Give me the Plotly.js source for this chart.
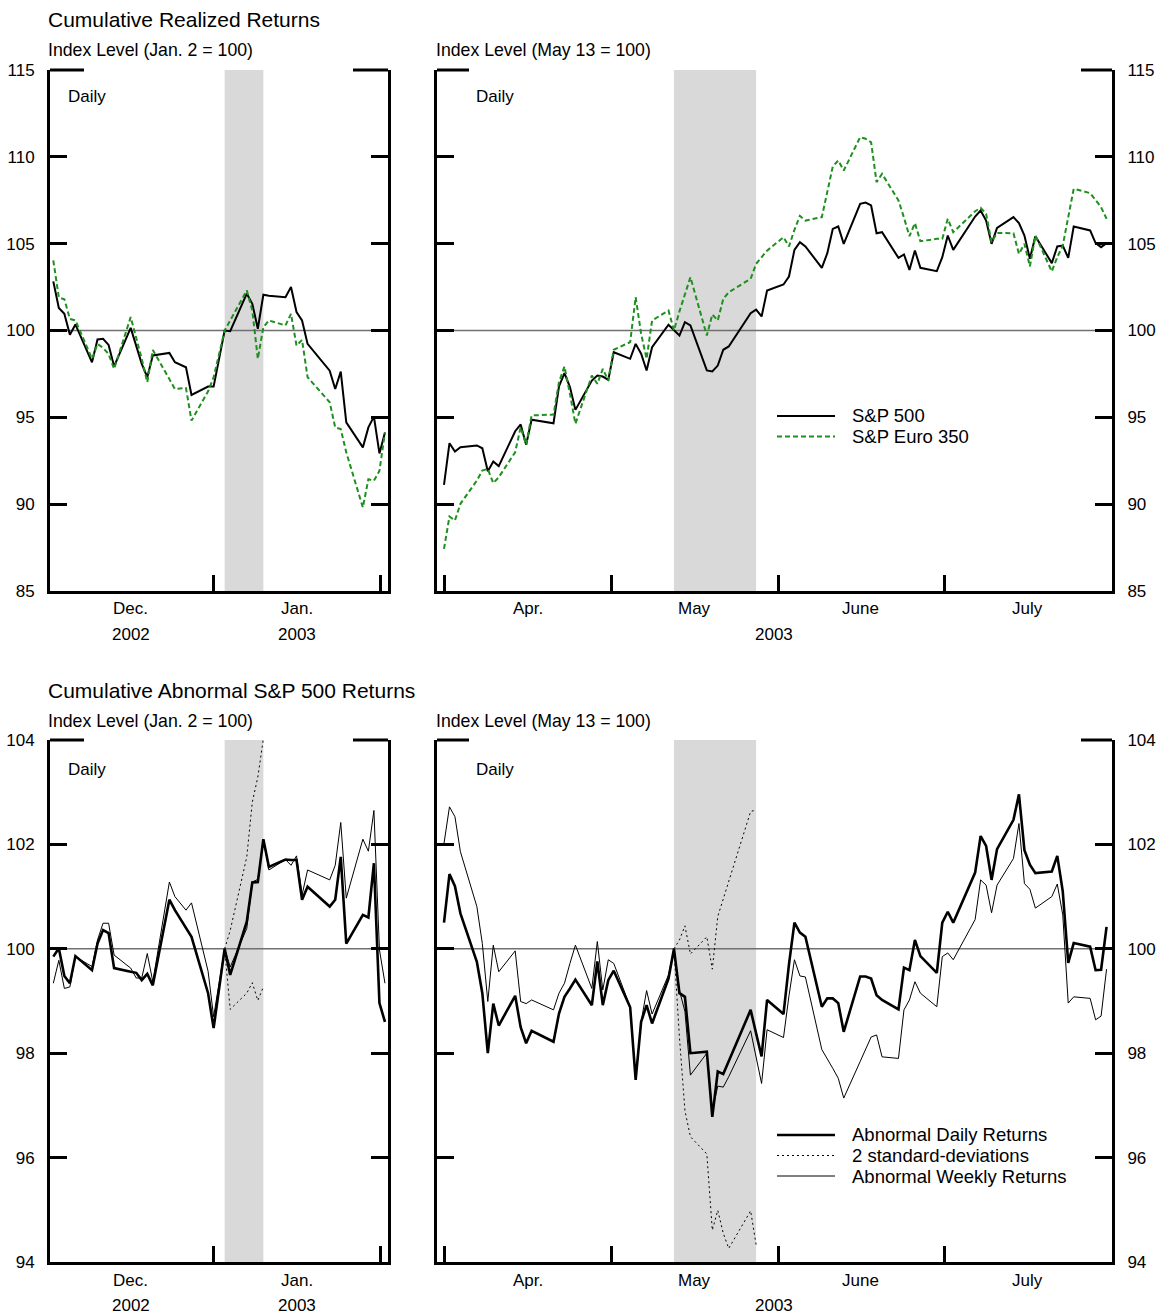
<!DOCTYPE html>
<html><head><meta charset="utf-8">
<script src="https://cdn.plot.ly/plotly-3.0.1.min.js"></script>
<style>html,body{margin:0;padding:0;background:#fff;}#chart{width:1158px;height:1315px;}</style>
</head><body><div id="chart"></div>
<script>
// ---------- DATA ----------
const datesL = ['2002-12-02','2002-12-03','2002-12-04','2002-12-05','2002-12-06','2002-12-09','2002-12-10','2002-12-11','2002-12-12','2002-12-13','2002-12-16','2002-12-17','2002-12-18','2002-12-19','2002-12-20','2002-12-23','2002-12-24','2002-12-26','2002-12-27','2002-12-30','2002-12-31','2003-01-02','2003-01-03','2003-01-06','2003-01-07','2003-01-08','2003-01-09','2003-01-10','2003-01-13','2003-01-14','2003-01-15','2003-01-16','2003-01-17','2003-01-21','2003-01-22','2003-01-23','2003-01-24','2003-01-27','2003-01-28','2003-01-29','2003-01-30','2003-01-31'];
const sp500L = [102.83,101.3,100.96,99.75,100.35,98.17,99.48,99.52,99.17,97.94,100.15,99.1,98.08,97.31,98.56,98.71,98.17,97.88,96.29,96.77,96.77,100.0,99.96,102.12,101.54,100.1,102.06,102.0,101.92,102.5,101.06,100.58,99.23,97.69,96.63,97.63,94.71,93.27,94.42,95.04,92.92,94.13];
const euro350L = [104.04,101.9,101.8,100.67,100.58,98.37,99.23,99.0,98.65,97.79,100.77,99.6,98.37,97.02,98.88,97.2,96.63,96.69,94.81,96.5,97.3,100.0,100.6,102.31,101.15,98.37,100.19,100.58,100.29,100.96,99.13,99.46,97.31,95.87,94.42,94.33,92.98,89.81,91.44,91.35,91.92,94.13];
const abnDailyL = [99.85,100.01,99.48,99.34,99.86,99.59,100.1,100.36,100.3,99.63,99.56,99.54,99.4,99.52,99.3,100.94,100.74,100.39,100.23,99.15,98.48,100.0,99.5,100.52,101.27,101.28,102.1,101.57,101.71,101.7,101.7,100.94,101.19,100.81,100.94,101.76,100.1,100.65,100.6,101.64,98.96,98.6];
const abnWeeklyL = [99.34,99.78,99.24,99.27,99.85,99.66,100.17,100.49,100.49,99.88,99.63,99.44,99.44,99.91,99.37,101.28,101.0,100.74,100.88,99.57,98.7,100.0,99.65,100.39,101.28,101.33,102.1,101.51,101.71,101.6,101.78,101.03,101.51,101.32,101.6,102.42,100.97,102.1,101.87,102.65,99.98,99.34];
const sdDatesL = ['2003-01-02','2003-01-03','2003-01-06','2003-01-07','2003-01-08','2003-01-09'];
const sdUpperL = [100.0,100.35,101.76,102.81,103.29,104.02];
const sdLowerL = [100.0,98.84,99.15,99.35,99.01,99.27];

const datesTopR = ['2003-04-01','2003-04-02','2003-04-03','2003-04-04','2003-04-07','2003-04-08','2003-04-09','2003-04-10','2003-04-11','2003-04-14','2003-04-15','2003-04-16','2003-04-17','2003-04-21','2003-04-22','2003-04-23','2003-04-24','2003-04-25','2003-04-28','2003-04-29','2003-04-30',
'2003-05-01','2003-05-02','2003-05-05','2003-05-06','2003-05-07','2003-05-08','2003-05-09','2003-05-12','2003-05-13','2003-05-14','2003-05-15','2003-05-16','2003-05-19','2003-05-20','2003-05-21','2003-05-22','2003-05-23','2003-05-27','2003-05-28','2003-05-29','2003-05-30',
'2003-06-02','2003-06-03','2003-06-04','2003-06-05','2003-06-06','2003-06-09','2003-06-10','2003-06-11','2003-06-12','2003-06-13','2003-06-16','2003-06-17','2003-06-18','2003-06-19','2003-06-20','2003-06-23','2003-06-24','2003-06-25','2003-06-26','2003-06-27','2003-06-30',
'2003-07-01','2003-07-02','2003-07-03','2003-07-07','2003-07-08','2003-07-09','2003-07-10','2003-07-11','2003-07-14','2003-07-15','2003-07-16','2003-07-17','2003-07-18','2003-07-21','2003-07-22','2003-07-23','2003-07-24','2003-07-25','2003-07-28','2003-07-29','2003-07-30','2003-07-31','2003-08-01'];
const sp500R = [91.11,93.51,93.03,93.28,93.38,93.22,91.9,92.46,92.19,94.2,94.59,93.42,94.86,94.66,96.78,97.54,96.74,95.43,97.12,97.41,97.35,
97.16,98.75,98.37,99.23,98.66,97.7,99.04,100.33,100.0,99.71,100.48,100.29,97.7,97.64,97.98,98.89,99.08,101.0,101.2,100.81,102.3,
102.65,103.11,104.64,105.09,104.84,103.61,104.45,105.85,105.99,104.99,107.29,107.37,107.2,105.6,105.66,104.18,104.38,103.49,104.61,103.61,103.42,
104.22,105.47,104.64,106.56,106.91,106.33,104.99,105.91,106.53,106.18,105.47,104.13,105.43,103.88,104.84,104.89,104.18,105.99,105.76,105.03,104.8,105.03,105.03];
const euro350R = [87.43,89.29,89.06,90.02,91.36,91.94,92.03,91.21,91.55,92.99,94.43,93.42,95.11,95.16,97.02,97.93,96.35,94.63,97.41,96.93,97.79,
97.12,98.89,99.33,101.92,99.81,98.37,100.58,101.15,100.0,101.1,102.1,103.07,99.71,100.92,100.58,101.82,102.2,102.98,103.84,104.2,104.6,
105.37,104.84,105.8,106.6,106.33,106.53,107.98,109.44,109.79,109.21,111.13,111.04,110.84,108.54,109.02,107.49,106.5,105.43,106.18,105.14,105.28,
105.28,106.43,105.66,106.87,107.06,106.72,105.09,105.62,105.6,104.41,104.99,103.69,105.47,103.4,104.22,104.89,106.53,108.16,107.91,107.49,107.1,106.43,null];

const datesBotR = datesTopR.slice(0, 85);
const abnDailyR = [100.5,101.43,101.2,100.68,99.75,99.15,98.0,98.95,98.53,99.1,98.5,98.19,98.43,98.22,98.76,99.08,99.24,99.41,98.92,99.76,98.92,
99.4,99.58,98.88,97.49,98.6,98.92,98.57,99.43,100.0,99.15,99.08,98.0,98.03,96.78,97.65,97.6,97.84,98.83,98.38,97.94,99.02,
98.75,99.7,100.5,100.31,100.23,98.89,99.05,99.05,98.96,98.41,99.47,99.47,99.43,99.11,99.02,98.84,99.64,99.59,100.17,99.86,99.54,
100.5,100.71,100.5,101.46,102.16,101.97,101.32,101.91,102.47,102.96,101.89,101.61,101.45,101.48,101.78,101.1,99.73,100.11,100.04,99.59,99.6,100.42];
const abnWeeklyR = [102.02,102.72,102.53,101.86,100.81,100.1,98.99,100.07,99.56,99.96,98.99,98.95,99.02,98.83,99.15,99.34,99.72,100.07,99.24,100.14,99.21,
99.79,99.72,98.89,97.52,98.6,99.2,98.75,99.5,100.0,99.2,98.8,97.58,98.0,96.9,97.37,97.35,97.55,98.43,97.93,97.42,98.45,
98.3,99.1,99.79,99.48,99.46,98.07,97.9,97.71,97.52,97.14,97.84,98.06,98.31,98.35,97.93,97.9,98.83,99.02,99.37,99.15,98.89,
99.85,99.92,99.79,100.56,101.32,101.22,100.69,101.22,101.73,102.4,101.25,101.14,100.78,101.0,101.24,100.65,98.96,99.08,99.05,98.64,98.71,99.61];
const sdDatesR = ['2003-05-13','2003-05-14','2003-05-15','2003-05-16','2003-05-19','2003-05-20','2003-05-21','2003-05-22','2003-05-23','2003-05-27','2003-05-28'];
const sdUpperR = [100.0,100.17,100.44,99.9,100.23,99.61,100.62,100.96,101.31,102.63,102.66];
const sdLowerR = [100.0,98.3,96.9,96.4,96.07,94.61,94.99,94.55,94.26,94.98,94.33];

const yTicksTop = [85,90,95,100,105,110,115];
const yTicksBot = [94,96,98,100,102,104];
const monthTicksL = ['2002-12-31','2003-01-30 06:00'];
const monthTicksR = ['2003-04-01 04:00','2003-05-01 15:00','2003-06-01','2003-07-01 09:00'];
const monthLabelsL = [['2002-12-16','Dec.'],['2003-01-15','Jan.']];
const yearLabelsL = [['2002-12-16','2002'],['2003-01-15','2003']];
const monthLabelsR = [['2003-04-16 08:00','Apr.'],['2003-05-16 17:00','May'],['2003-06-16 03:00','June'],['2003-07-16 15:00','July']];
const yearLabelsR = [['2003-05-31 06:00','2003']];
const eventL = ['2003-01-02','2003-01-09'];
const eventR = ['2003-05-13','2003-05-28'];

// ---------- LAYOUT HELPERS ----------
const W = 1158, H = 1315;
const PX = x => x / W;
const PY = y => 1 - y / H;
const FONT = 'Liberation Sans, Arial, Helvetica, sans-serif';
const GREEN = '#1f8f1f';

const traces = [
  {x: datesL, y: sp500L, xaxis:'x', yaxis:'y', mode:'lines', line:{color:'#000', width:2}, name:'S&P 500'},
  {x: datesL, y: euro350L, xaxis:'x', yaxis:'y', mode:'lines', line:{color:GREEN, width:2, dash:'5px,3px'}, name:'S&P Euro 350'},
  {x: datesTopR, y: sp500R, xaxis:'x2', yaxis:'y2', mode:'lines', line:{color:'#000', width:2}, name:'S&P 500'},
  {x: datesTopR, y: euro350R, xaxis:'x2', yaxis:'y2', mode:'lines', line:{color:GREEN, width:2, dash:'5px,3px'}, name:'S&P Euro 350'},
  {x: datesL, y: abnWeeklyL, xaxis:'x3', yaxis:'y3', mode:'lines', line:{color:'#000', width:1}, name:'Abnormal Weekly Returns'},
  {x: datesL, y: abnDailyL, xaxis:'x3', yaxis:'y3', mode:'lines', line:{color:'#000', width:2.6}, name:'Abnormal Daily Returns'},
  {x: sdDatesL, y: sdUpperL, xaxis:'x3', yaxis:'y3', mode:'lines', line:{color:'#000', width:1, dash:'2px,3px'}, name:'2 standard-deviations'},
  {x: sdDatesL, y: sdLowerL, xaxis:'x3', yaxis:'y3', mode:'lines', line:{color:'#000', width:1, dash:'2px,3px'}, name:'2 standard-deviations'},
  {x: datesBotR, y: abnWeeklyR, xaxis:'x4', yaxis:'y4', mode:'lines', line:{color:'#000', width:1}, name:'Abnormal Weekly Returns'},
  {x: datesBotR, y: abnDailyR, xaxis:'x4', yaxis:'y4', mode:'lines', line:{color:'#000', width:2.6}, name:'Abnormal Daily Returns'},
  {x: sdDatesR, y: sdUpperR, xaxis:'x4', yaxis:'y4', mode:'lines', line:{color:'#000', width:1, dash:'2px,3px'}, name:'2 standard-deviations'},
  {x: sdDatesR, y: sdLowerR, xaxis:'x4', yaxis:'y4', mode:'lines', line:{color:'#000', width:1, dash:'2px,3px'}, name:'2 standard-deviations'}
];

const xCommon = {type:'date', showticklabels:false, ticks:'inside', ticklen:16, tickwidth:3, tickcolor:'#000',
  showline:true, linewidth:3, linecolor:'#000', showgrid:false, zeroline:false, fixedrange:true};
const yCommon = {ticks:'inside', ticklen:17, tickwidth:3, tickcolor:'#000', showline:true, linewidth:3, linecolor:'#000',
  mirror:'ticks', showgrid:false, zeroline:false, fixedrange:true, tickfont:{family:FONT, size:17, color:'#000'}, ticklabelstandoff:9};

const domXL = [PX(50), PX(388)], domXR = [PX(437), PX(1112)];
const domYT = [PY(591), PY(70)], domYB = [PY(1262), PY(740)];
const rangeL = ['2002-12-01 09:40','2003-01-31 13:10'];
const rangeR = ['2003-03-30 17:20','2003-07-31 23:50'];

const shapes = [];
const annotations = [];
// event bands and 100 lines
[['x','y',eventL],['x2','y2',eventR],['x3','y3',eventL],['x4','y4',eventR]].forEach(([xa,ya,ev]) => {
  shapes.push({type:'rect', xref:xa, yref:ya+' domain', x0:ev[0], x1:ev[1], y0:0, y1:1, fillcolor:'#d9d9d9', line:{width:0}, layer:'below'});
  shapes.push({type:'line', xref:xa+' domain', yref:ya, x0:0, x1:1, y0:100, y1:100, line:{color:'#707070', width:1.4}, layer:'below'});
});
// long top ticks
[[50,84,353,388,70],[437,469,1081,1112,70],[50,84,353,388,740],[437,469,1081,1112,740]].forEach(([a,b,c,d,y]) => {
  shapes.push({type:'line', xref:'paper', yref:'paper', x0:PX(a), x1:PX(b), y0:PY(y), y1:PY(y), line:{color:'#000', width:3}});
  shapes.push({type:'line', xref:'paper', yref:'paper', x0:PX(c), x1:PX(d), y0:PY(y), y1:PY(y), line:{color:'#000', width:3}});
});
// legends (manual)
function legendLine(y, color, width, dash) {
  shapes.push({type:'line', xref:'paper', yref:'paper', x0:PX(777), x1:PX(835), y0:PY(y), y1:PY(y), line:{color:color, width:width, dash:dash}});
}
function txt(x, y, text, size, anchor, xref) {
  annotations.push({x:x, y:PY(y), xref:xref||'paper', yref:'paper', text:text, showarrow:false,
    xanchor:anchor||'left', yanchor:'middle', borderpad:0, font:{family:FONT, size:size, color:'#000'}});
}
legendLine(416, '#000', 2, 'solid');
legendLine(436.5, GREEN, 2, '5px,3px');
txt(PX(851), 416, 'S&P 500', 18.5);
txt(PX(851), 437, 'S&P Euro 350', 18.5);
legendLine(1135, '#000', 2.6, 'solid');
legendLine(1155.5, '#000', 1, '2px,3px');
legendLine(1176, '#000', 1, 'solid');
txt(PX(851), 1134.5, 'Abnormal Daily Returns', 18.5);
txt(PX(851), 1155.5, '2 standard-deviations', 18.5);
txt(PX(851), 1176.5, 'Abnormal Weekly Returns', 18.5);

// titles
txt(PX(47), 19.5, 'Cumulative Realized Returns', 21);
txt(PX(47), 50, 'Index Level (Jan. 2 = 100)', 17.7);
txt(PX(435), 50, 'Index Level (May 13 = 100)', 17.7);
txt(PX(47), 690, 'Cumulative Abnormal S&P 500 Returns', 21);
txt(PX(47), 721, 'Index Level (Jan. 2 = 100)', 17.7);
txt(PX(435), 721, 'Index Level (May 13 = 100)', 17.7);
txt(PX(67), 97, 'Daily', 17);
txt(PX(475), 97, 'Daily', 17);
txt(PX(67), 769, 'Daily', 17);
txt(PX(475), 769, 'Daily', 17);

// month & year labels
[['x',monthLabelsL,yearLabelsL,608.5,634],['x2',monthLabelsR,yearLabelsR,608.5,634],
 ['x3',monthLabelsL,yearLabelsL,1280,1305.5],['x4',monthLabelsR,yearLabelsR,1280,1305.5]].forEach(([xa,ml,yl,ym,yy]) => {
  ml.forEach(([d,t]) => txt(d, ym, t, 17, 'center', xa));
  yl.forEach(([d,t]) => txt(d, yy, t, 17, 'center', xa));
});

const layout = {
  width: W, height: H, margin:{l:0,r:0,t:0,b:0}, paper_bgcolor:'#fff', plot_bgcolor:'rgba(0,0,0,0)',
  showlegend:false, font:{family:FONT, color:'#000'},
  xaxis: Object.assign({}, xCommon, {domain:domXL, anchor:'y', range:rangeL, tickvals:monthTicksL}),
  yaxis: Object.assign({}, yCommon, {domain:domYT, anchor:'x', range:[85,115], tickvals:yTicksTop, side:'left'}),
  xaxis2: Object.assign({}, xCommon, {domain:domXR, anchor:'y2', range:rangeR, tickvals:monthTicksR}),
  yaxis2: Object.assign({}, yCommon, {domain:domYT, anchor:'x2', range:[85,115], tickvals:yTicksTop, side:'right'}),
  xaxis3: Object.assign({}, xCommon, {domain:domXL, anchor:'y3', range:rangeL, tickvals:monthTicksL}),
  yaxis3: Object.assign({}, yCommon, {domain:domYB, anchor:'x3', range:[94,104], tickvals:yTicksBot, side:'left'}),
  xaxis4: Object.assign({}, xCommon, {domain:domXR, anchor:'y4', range:rangeR, tickvals:monthTicksR}),
  yaxis4: Object.assign({}, yCommon, {domain:domYB, anchor:'x4', range:[94,104], tickvals:yTicksBot, side:'right'}),
  shapes: shapes, annotations: annotations
};

Plotly.newPlot('chart', traces, layout, {staticPlot:true, displayModeBar:false});
</script></body></html>
